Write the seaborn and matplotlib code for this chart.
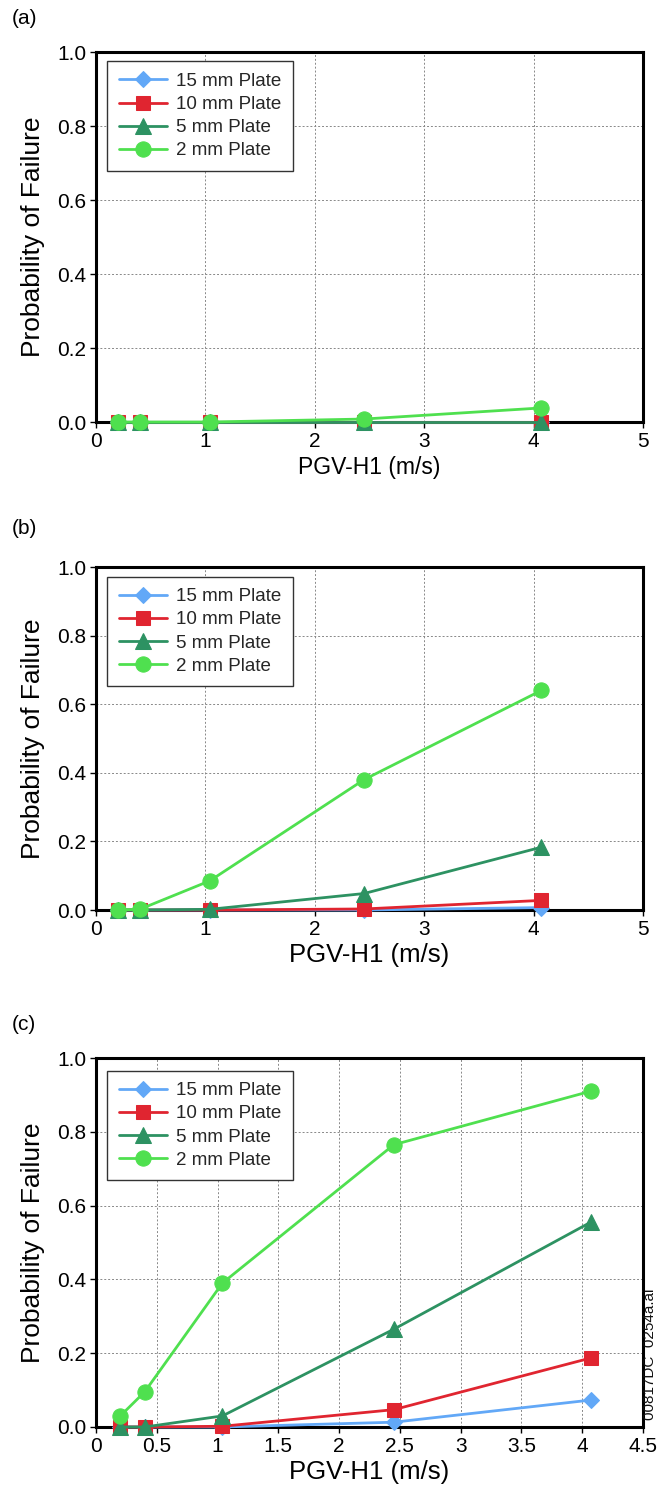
import numpy as np
import pandas as pd
import matplotlib
matplotlib.use("Agg")
import matplotlib.pyplot as plt
import seaborn as sns

pgv = [0.2, 0.4, 1.04, 2.45, 4.07]
plates = ["15 mm Plate", "10 mm Plate", "5 mm Plate", "2 mm Plate"]

a_15 = [0.0, 0.0, 0.0, 0.0, 0.0]
a_10 = [0.0, 0.0, 0.0, 0.0, 0.0]
a_5 = [0.0, 0.0, 0.0, 0.0, 0.0]
a_2 = [0.0, 0.0, 0.0, 0.008, 0.038]

b_15 = [0.0, 0.0, 0.0, 0.0, 0.007]
b_10 = [0.0, 0.0, 0.0, 0.003, 0.028]
b_5 = [0.0, 0.0, 0.002, 0.048, 0.183]
b_2 = [0.0, 0.002, 0.085, 0.38, 0.64]

c_15 = [0.0, 0.0, 0.0, 0.013, 0.073]
c_10 = [0.0, 0.0, 0.002, 0.047, 0.187]
c_5 = [0.0, 0.0, 0.03, 0.265, 0.555]
c_2 = [0.03, 0.095, 0.39, 0.765, 0.91]

panel_labels = ["(a)", "(b)", "(c)"]
xlims = [5, 5, 4.5]
xtick_sets = [[0, 1, 2, 3, 4, 5], [0, 1, 2, 3, 4, 5],
              [0, 0.5, 1, 1.5, 2, 2.5, 3, 3.5, 4, 4.5]]
xtick_labels = [["0", "1", "2", "3", "4", "5"], ["0", "1", "2", "3", "4", "5"],
                ["0", "0.5", "1", "1.5", "2", "2.5", "3", "3.5", "4", "4.5"]]
yticks = [0.0, 0.2, 0.4, 0.6, 0.8, 1.0]
ytick_labels = ["0.0", "0.2", "0.4", "0.6", "0.8", "1.0"]

colors = {"15 mm Plate": "#62a8f7", "10 mm Plate": "#e02530",
          "5 mm Plate": "#2d9262", "2 mm Plate": "#4fe04f"}
markers = {"15 mm Plate": "D", "10 mm Plate": "s", "5 mm Plate": "^", "2 mm Plate": "o"}
msizes = {"15 mm Plate": 8.5, "10 mm Plate": 10, "5 mm Plate": 11.5, "2 mm Plate": 11}

sns.set_theme(style="white")
plt.rcParams["font.family"] = ["Liberation Sans", "DejaVu Sans"]

fig = plt.figure(figsize=(6.59, 14.93), dpi=100)
rects = [
    [96 / 659, 1 - 422 / 1493, 547 / 659, 370 / 1493],
    [96 / 659, 1 - 910 / 1493, 547 / 659, 343 / 1493],
    [96 / 659, 1 - 1427 / 1493, 547 / 659, 369 / 1493],
]
panels = [
    [a_15, a_10, a_5, a_2],
    [b_15, b_10, b_5, b_2],
    [c_15, c_10, c_5, c_2],
]
xlabel_sizes = [16.5, 18.5, 18.5]
xlabel_pads = [4, 3, 3]
panel_label_y = [18, 529, 1024]
legend_top = [0.975, 0.972, 0.966]

for i, (rect, series) in enumerate(zip(rects, panels)):
    ax = fig.add_axes(rect)
    rows = []
    for name, vals in zip(plates, series):
        for x, y in zip(pgv, vals):
            rows.append({"PGV": x, "P": y, "plate": name})
    df = pd.DataFrame(rows)
    for name in plates:
        sub = df[df["plate"] == name]
        sns.lineplot(data=sub, x="PGV", y="P", ax=ax, color=colors[name],
                     marker=markers[name], markersize=msizes[name],
                     markeredgecolor=colors[name], linewidth=2, label=name,
                     clip_on=False, zorder=3)
    ax.set_xlim(0, xlims[i])
    ax.set_ylim(0, 1.0)
    ax.set_xticks(xtick_sets[i])
    ax.set_xticklabels(xtick_labels[i])
    ax.set_yticks(yticks)
    ax.set_yticklabels(ytick_labels)
    ax.grid(True, color="#888888", linestyle=(0, (2, 2)), linewidth=0.7)
    for s in ax.spines.values():
        s.set_color("black")
        s.set_linewidth(2.2)
    ax.tick_params(axis="both", labelsize=15, colors="black", direction="out",
                   length=4, width=1, left=True, bottom=True, pad=3)
    ax.set_xlabel("PGV-H1 (m/s)", fontsize=xlabel_sizes[i], color="black",
                  labelpad=xlabel_pads[i])
    ax.set_ylabel("Probability of Failure", fontsize=19, color="black", labelpad=9)
    leg = ax.legend(loc="upper left", bbox_to_anchor=(0.02, legend_top[i]), fontsize=13.5,
                    frameon=True, fancybox=False, framealpha=1, edgecolor="#333333",
                    handlelength=2.6, borderpad=0.62, labelspacing=0.32,
                    handletextpad=0.45, borderaxespad=0)
    leg.get_frame().set_linewidth(1)
    fig.text(12 / 659, 1 - panel_label_y[i] / 1493, panel_labels[i],
             fontsize=15, ha="left", va="center", color="black")

fig.text(650 / 659, 1 - 1354 / 1493, "00817DC  0254a.ai", rotation=90,
         fontsize=11, ha="center", va="center", color="#111111")

fig.savefig("out.png", dpi=100)
